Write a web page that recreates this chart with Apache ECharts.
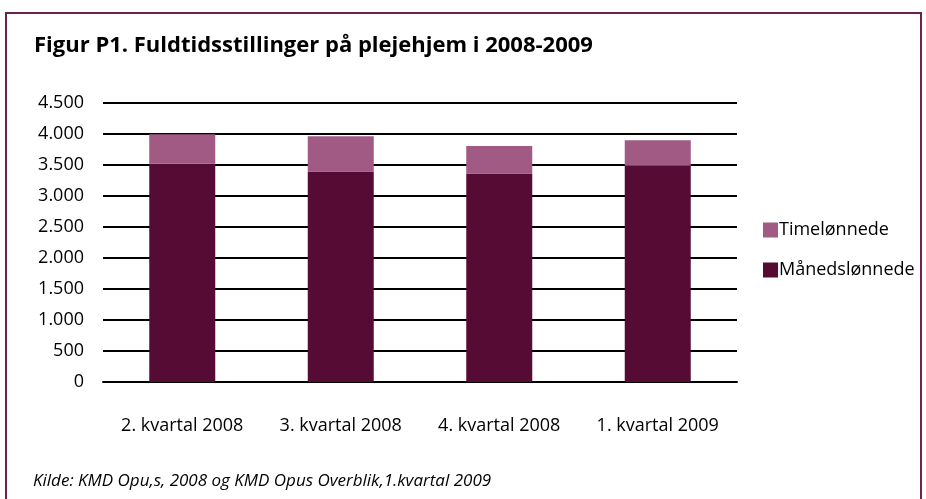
<!DOCTYPE html>
<html><head><meta charset="utf-8">
<script src="https://cdn.jsdelivr.net/npm/echarts@6/dist/echarts.min.js"></script>
<style>html,body{margin:0;padding:0;background:#fff}#c{width:926px;height:499px}</style>
</head><body><div id="c"></div>
<script>
const categories = ['2. kvartal 2008', '3. kvartal 2008', '4. kvartal 2008', '1. kvartal 2009'];
const maanedsloennede = [3521, 3395, 3363, 3489];
const timeloennede = [474, 568, 442, 411];
const yTicks = [0, 500, 1000, 1500, 2000, 2500, 3000, 3500, 4000, 4500];

const FONT = 'Open Sans';
const chart = echarts.init(document.getElementById('c'));
chart.setOption({
  backgroundColor: '#fff',
  animation: false,
  title: {
    text: 'Figur P1. Fuldtidsstillinger på plejehjem i 2008-2009',
    left: 29, top: 30,
    textStyle: { fontFamily: FONT, fontWeight: 'bold', fontSize: 22, color: '#000' }
  },
  graphic: [{
    type: 'rect', shape: { x: 6, y: 13, width: 915, height: 500 },
    style: { fill: 'none', stroke: '#6a2350', lineWidth: 2 }, silent: true
  }, {
    type: 'text', left: 33, top: 473,
    style: { text: 'Kilde: KMD Opu,s, 2008 og KMD Opus Overblik,1.kvartal 2009',
      font: 'italic 17px "' + FONT + '"', fill: '#000' }
  }],
  legend: {
    orient: 'vertical', left: 758, top: 216, itemGap: 22,
    itemWidth: 15, itemHeight: 15,
    data: ['Timelønnede', 'Månedslønnede'],
    textStyle: { fontFamily: FONT, fontSize: 18, color: '#000', padding: [0, 0, 0, -4] },
    icon: 'rect'
  },
  grid: { left: 103, right: 189, top: 103, bottom: 117 },
  xAxis: {
    type: 'category', data: categories,
    axisLine: { show: true, lineStyle: { color: '#000', width: 2 } },
    axisTick: { show: false },
    axisLabel: { fontFamily: FONT, fontSize: 18, color: '#000', margin: 35,
      interval: 0, hideOverlap: false }
  },
  yAxis: {
    type: 'value', min: 0, max: 4500, interval: 500,
    axisLine: { show: false }, axisTick: { show: false },
    splitLine: { lineStyle: { color: '#000', width: 2 } },
    axisLabel: {
      fontFamily: FONT, fontSize: 18, color: '#000', margin: 19,
      formatter: v => v.toLocaleString('de-DE')
    }
  },
  series: [{
    name: 'Månedslønnede', type: 'bar', stack: 'a', data: maanedsloennede,
    barWidth: 66, itemStyle: { color: '#550b33' }
  }, {
    name: 'Timelønnede', type: 'bar', stack: 'a', data: timeloennede,
    barWidth: 66, itemStyle: { color: '#a15a84' }
  }]
});
</script></body></html>
